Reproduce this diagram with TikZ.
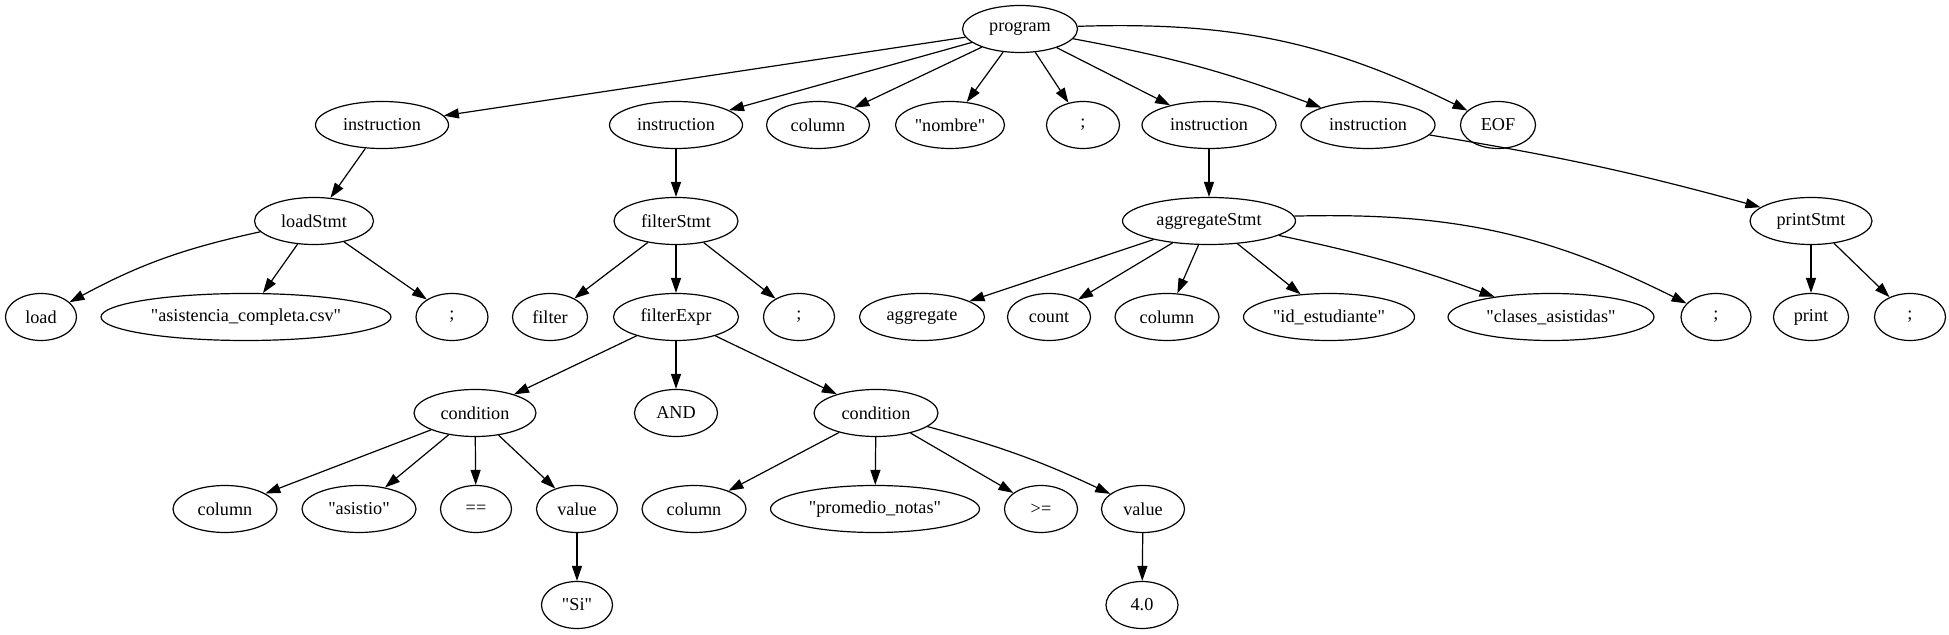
\documentclass[tikz,border=0pt]{standalone}
\usepackage{fontspec}
\setmainfont{Liberation Serif}
\usetikzlibrary{shapes.geometric, arrows.meta}

\begin{document}
\begin{tikzpicture}[x=0.5pt, y=-0.5pt,
    tn/.style={draw, ellipse, line width=0.6pt, inner sep=0pt,
        minimum height=23.5pt, font=\fontsize{9.1}{11}\selectfont},
    edge/.style={-{Triangle[length=7.5pt, width=5pt]}, line width=0.6pt}]
\useasboundingbox (0,0) rectangle (1949,635);
% root and first row
\node[tn, minimum width=57.5pt] (p) at (1020,29) {program};
\foreach \n/\x/\w/\t in {i1/382/66.5/instruction, i2/676/66.5/instruction,
    col1/818/51.5/column, nom/950/54.5/\textquotedbl nombre\textquotedbl, s1/1083/36.5/;,
    i3/1209/67/instruction, i4/1368/67/instruction, eof/1498/37.5/EOF} {
    \node[tn, minimum width=\w pt] (\n) at (\x,125) {\t};
}
% statements
\foreach \n/\x/\w/\t in {ld/314/59.5/loadStmt, fs/676/62/filterStmt,
    ag/1209/86.5/aggregateStmt, pr/1811/61/printStmt} {
    \node[tn, minimum width=\w pt] (\n) at (\x,221) {\t};
}
% third row
\foreach \n/\x/\w/\t in {load/41/35.5/load,
    csv/246/145/\textquotedbl asistencia\_completa.csv\textquotedbl,
    s2/452/36/;, filt/550/37.5/filter, fe/676/62.5/filterExpr, s3/799/35.5/;,
    aggr/922/62.5/aggregate, cnt/1049/41.5/count, col2/1167/52/column,
    ide/1329/85.5/\textquotedbl id\_estudiante\textquotedbl,
    cla/1551/103/\textquotedbl clases\_asistidas\textquotedbl,
    s4/1716/35/;, prt/1811/37.5/print, s5/1910/35.5/;} {
    \node[tn, minimum width=\w pt] (\n) at (\x,317) {\t};
}
% conditions
\foreach \n/\x/\w/\t in {c1/475/61/condition, and/676/41.5/AND,
    c2/876/62/condition} {
    \node[tn, minimum width=\w pt] (\n) at (\x,413) {\t};
}
\foreach \n/\x/\w/\t in {col3/225/52/column, asi/359/57/\textquotedbl asistio\textquotedbl,
    eq/476/35.5/==, v1/577/40.5/value, col4/694/52/column,
    prom/875/104.5/\textquotedbl promedio\_notas\textquotedbl,
    ge/1041/36.5/>=, v2/1143/41.5/value} {
    \node[tn, minimum width=\w pt] (\n) at (\x,509) {\t};
}
\node[tn, minimum width=35.5pt] (si) at (577,605) {\textquotedbl Si\textquotedbl};
\node[tn, minimum width=36pt] (four) at (1142,605) {4.0};

% edges
\foreach \c in {i1,i2,col1,nom,s1,i3}
    \draw[edge] (p) -- (\c);
\draw[edge] (p) to[bend left=5] (i4);
\draw[edge] (p) to[bend left=14] (eof);
\draw[edge] (i1) -- (ld);
\draw[edge] (i2) -- (fs);
\draw[edge] (i3) -- (ag);
\draw[edge] (i4) to[bend left=3] (pr);
\draw[edge] (ld) to[bend right=8] (load);
\foreach \c in {csv,s2}
    \draw[edge] (ld) -- (\c);
\foreach \c in {filt,fe,s3}
    \draw[edge] (fs) -- (\c);
\foreach \c in {aggr,cnt,col2,ide}
    \draw[edge] (ag) -- (\c);
\draw[edge] (ag) to[bend left=4] (cla);
\draw[edge] (ag) to[bend left=14] (s4);
\foreach \c in {prt,s5}
    \draw[edge] (pr) -- (\c);
\foreach \c in {c1,and,c2}
    \draw[edge] (fe) -- (\c);
\foreach \c in {col3,asi,eq,v1}
    \draw[edge] (c1) -- (\c);
\foreach \c in {col4,prom,ge}
    \draw[edge] (c2) -- (\c);
\draw[edge] (c2) to[bend left=5] (v2);
\draw[edge] (v1) -- (si);
\draw[edge] (v2) -- (four);
\end{tikzpicture}
\end{document}
